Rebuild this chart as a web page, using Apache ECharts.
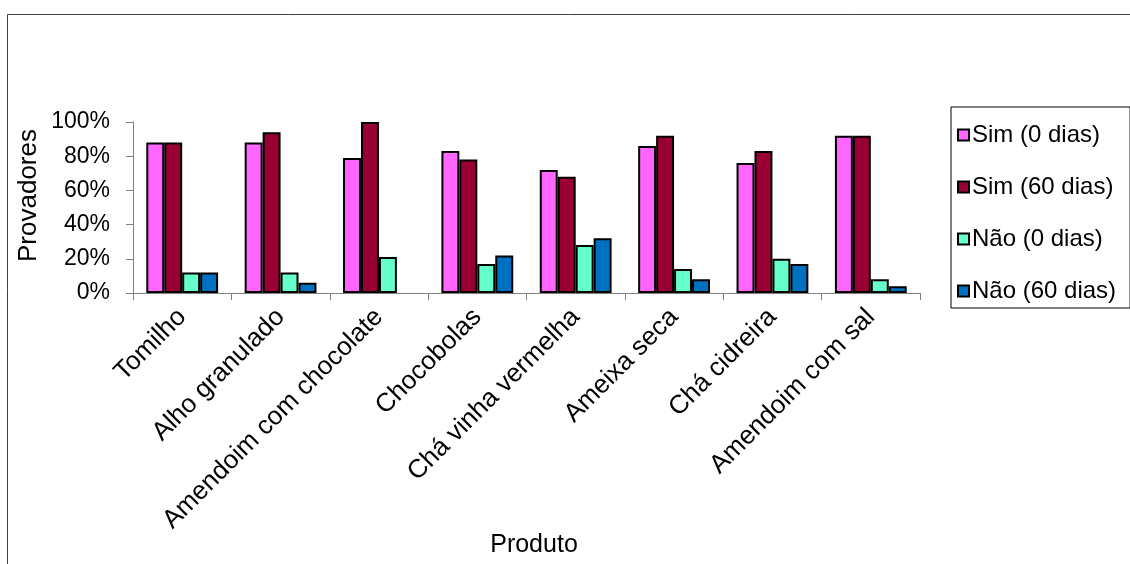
<!DOCTYPE html>
<html>
<head>
<meta charset="utf-8">
<style>
  html, body { margin: 0; padding: 0; background: #fff; }
  #chart { width: 1130px; height: 564px; }
</style>
<script src="https://cdn.jsdelivr.net/npm/echarts@6/dist/echarts.min.js"></script>
</head>
<body>
<div id="chart"></div>
<script>
// Produtos avaliados
const categories = [
  'Tomilho', 'Alho granulado', 'Amendoim com chocolate', 'Chocobolas',
  'Chá vinha vermelha', 'Ameixa seca', 'Chá cidreira', 'Amendoim com sal'
];

// Fração de provadores por resposta e tempo de armazenamento
const simDia0   = [0.88, 0.88, 0.79, 0.83, 0.72, 0.86, 0.76, 0.92];
const simDia60  = [0.88, 0.94, 1.00, 0.78, 0.68, 0.92, 0.83, 0.92];
const naoDia0   = [0.12, 0.12, 0.21, 0.17, 0.28, 0.14, 0.20, 0.08];
const naoDia60  = [0.12, 0.06, null, 0.22, 0.32, 0.08, 0.17, 0.04];

const seriesNames = ['Sim (0 dias)', 'Sim (60 dias)', 'Não (0 dias)', 'Não (60 dias)'];
const seriesColors = ['#FF66FF', '#990033', '#66FFCC', '#0070C0'];
const seriesData = [simDia0, simDia60, naoDia0, naoDia60];

// Marcas do eixo vertical
const yTicks = { min: 0, max: 1, interval: 0.2 };

const FONT = 'Liberation Sans, Arial, sans-serif';
const chart = echarts.init(document.getElementById('chart'), null, { renderer: 'canvas' });

chart.setOption({
  animation: false,
  backgroundColor: '#ffffff',
  textStyle: { fontFamily: FONT, color: '#000' },
  graphic: [{
    type: 'rect',
    silent: true,
    shape: { x: 7.5, y: 14.5, width: 1140, height: 580 },
    style: { fill: 'none', stroke: '#404040', lineWidth: 1 }
  }],
  grid: {
    left: 133, right: 210, top: 122, bottom: 271,
    containLabel: false,
    outerBoundsMode: 'none'
  },
  legend: {
    orient: 'vertical',
    left: 951,
    top: 107,
    padding: [15, 14, 4, 6],
    borderColor: '#000',
    borderWidth: 1,
    itemWidth: 11,
    itemHeight: 11,
    itemGap: 26,
    icon: 'rect',
    itemStyle: { borderColor: '#000', borderWidth: 2 },
    textStyle: { fontFamily: FONT, fontSize: 24, color: '#000', padding: [0, 0, 0, -2], lineHeight: 26 },
    data: seriesNames
  },
  xAxis: {
    type: 'category',
    data: categories,
    name: 'Produto',
    nameLocation: 'middle',
    nameGap: 240,
    nameMoveOverlap: false,
    nameTextStyle: { fontFamily: FONT, fontSize: 25, color: '#000', padding: [0, 0, 0, 15] },
    axisLine: { lineStyle: { color: '#808080', width: 1 } },
    axisTick: { show: true, length: 7, lineStyle: { color: '#808080' } },
    axisLabel: { rotate: 45, margin: 20, fontFamily: FONT, fontSize: 26, color: '#000', interval: 0 }
  },
  yAxis: {
    type: 'value',
    min: yTicks.min,
    max: yTicks.max,
    interval: yTicks.interval,
    name: 'Provadores',
    nameLocation: 'middle',
    nameRotate: 90,
    nameGap: 91,
    nameMoveOverlap: false,
    nameTextStyle: { fontFamily: FONT, fontSize: 26, color: '#000', padding: [0, 0, 0, 24] },
    axisLine: { show: true, lineStyle: { color: '#808080', width: 1 } },
    axisTick: { show: true, length: 7, lineStyle: { color: '#808080' } },
    splitLine: { show: false },
    axisLabel: {
      margin: 23,
      fontFamily: FONT,
      fontSize: 23,
      color: '#000',
      formatter: v => Math.round(v * 100) + '%'
    }
  },
  series: seriesNames.map((name, i) => ({
    name,
    type: 'bar',
    data: seriesData[i],
    barGap: '0%',
    barCategoryGap: '27%',
    itemStyle: { color: seriesColors[i], borderColor: '#000', borderWidth: 2 }
  }))
});
</script>
</body>
</html>
